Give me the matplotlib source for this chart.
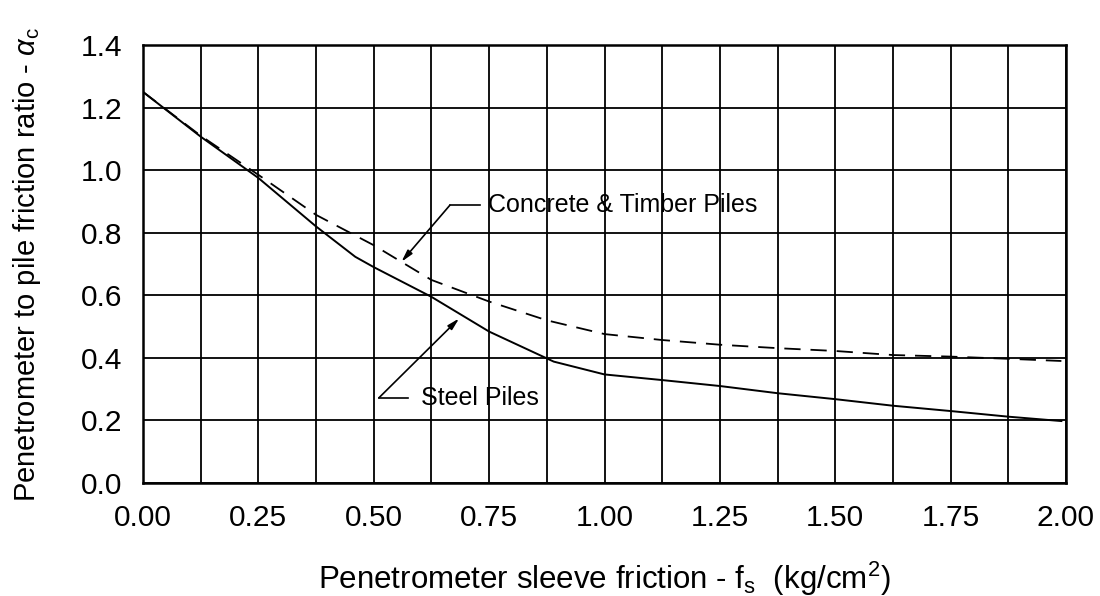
import matplotlib
matplotlib.use("Agg")
import matplotlib.pyplot as plt
import numpy as np

plt.rcParams['font.family'] = ['Liberation Sans', 'DejaVu Sans']
plt.rcParams['mathtext.fontset'] = 'custom'
plt.rcParams['mathtext.rm'] = 'Liberation Sans'
plt.rcParams['mathtext.it'] = 'Liberation Sans:italic'

# Data
x_steel = [0.0, 0.125, 0.25, 0.375, 0.46, 0.5, 0.625, 0.75, 0.89, 1.0, 1.125,
           1.25, 1.375, 1.5, 1.625, 1.75, 1.875, 1.99]
y_steel = [1.25, 1.107, 0.975, 0.82, 0.723, 0.69, 0.595, 0.484, 0.388, 0.347, 0.329,
           0.31, 0.287, 0.268, 0.247, 0.23, 0.212, 0.198]

x_conc = [0.0, 0.125, 0.25, 0.375, 0.5, 0.625, 0.75, 0.875, 1.0, 1.125, 1.25,
          1.375, 1.5, 1.625, 1.75, 1.875, 1.99]
y_conc = [1.25, 1.11, 0.985, 0.857, 0.76, 0.649, 0.58, 0.52, 0.476, 0.457, 0.442,
          0.431, 0.422, 0.409, 0.404, 0.397, 0.39]

x_ticks = [0.0, 0.25, 0.5, 0.75, 1.0, 1.25, 1.5, 1.75, 2.0]
x_ticklabels = ["0.00", "0.25", "0.50", "0.75", "1.00", "1.25", "1.50", "1.75", "2.00"]
x_minor = [0.125, 0.375, 0.625, 0.875, 1.125, 1.375, 1.625, 1.875]
y_ticks = [0.0, 0.2, 0.4, 0.6, 0.8, 1.0, 1.2, 1.4]
y_ticklabels = ["0.0", "0.2", "0.4", "0.6", "0.8", "1.0", "1.2", "1.4"]

fig = plt.figure(figsize=(11, 5.96), dpi=100)
ax = fig.add_axes([143/1100, 1 - 483/596, (1066-143)/1100, (483-45)/596])

ax.set_xlim(0, 2.0)
ax.set_ylim(0, 1.4)
ax.set_xticks(x_ticks)
ax.set_xticklabels(x_ticklabels)
ax.set_xticks(x_minor, minor=True)
ax.set_yticks(y_ticks)
ax.set_yticklabels(y_ticklabels)
ax.tick_params(axis='both', which='both', length=0, labelsize=21.5)
ax.tick_params(axis='x', pad=15)
ax.tick_params(axis='y', pad=15)
ax.grid(True, which='both', color='black', linewidth=1.3)
ax.set_axisbelow(True)
for s in ax.spines.values():
    s.set_linewidth(1.8)
    s.set_color('black')

ax.plot(x_steel, y_steel, color='black', lw=1.4, zorder=3)
ax.plot(x_conc, y_conc, color='black', lw=1.3, linestyle=(0, (9, 5.5)), zorder=3)

# Annotations
ap = dict(arrowstyle='-|>,head_length=0.7,head_width=0.18', color='black', lw=1.2,
          shrinkA=0, shrinkB=0)
ax.annotate('', xy=(0.56, 0.707), xytext=(0.665, 0.888), arrowprops=ap, zorder=4)
ax.plot([0.665, 0.730], [0.888, 0.888], color='black', lw=1.2, zorder=4)
ax.text(0.748, 0.888, 'Concrete & Timber Piles', fontsize=18, va='center', ha='left',
        zorder=5)

ax.annotate('', xy=(0.685, 0.526), xytext=(0.511, 0.272), arrowprops=ap, zorder=4)
ax.plot([0.511, 0.574], [0.272, 0.272], color='black', lw=1.2, zorder=4)
ax.text(0.602, 0.272, 'Steel Piles', fontsize=18, va='center', ha='left', zorder=5)

ax.set_xlabel(r'Penetrometer sleeve friction - f$_\mathregular{s}$  (kg/cm$^\mathregular{2}$)',
              fontsize=22.5, labelpad=20)
ax.set_ylabel(r'Penetrometer to pile friction ratio - $\alpha_\mathregular{c}$',
              fontsize=21, labelpad=27)

fig.savefig('out.png', dpi=100)
